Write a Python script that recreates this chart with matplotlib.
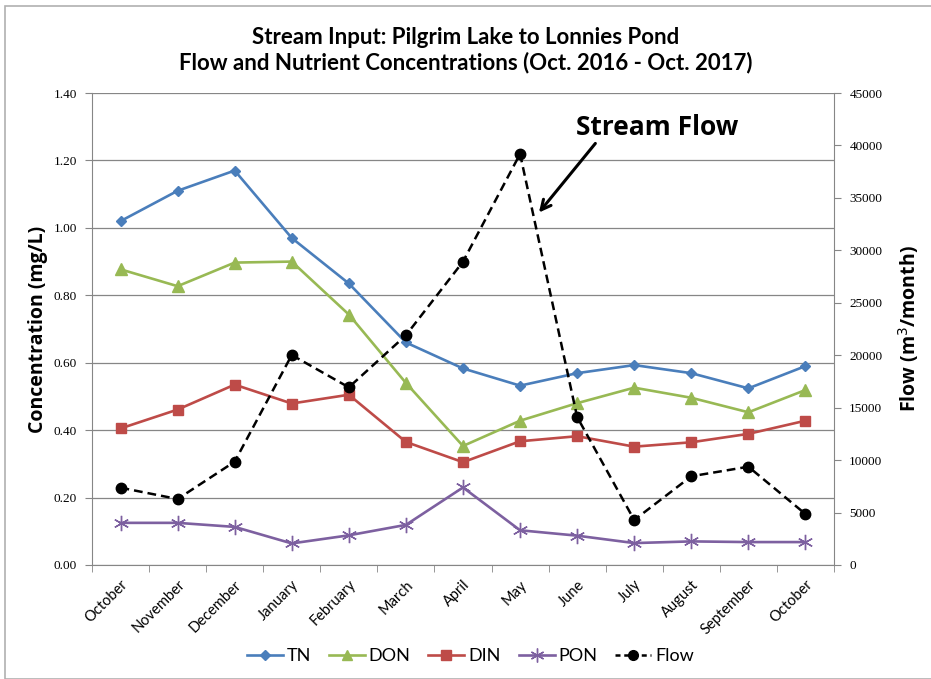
import matplotlib
matplotlib.use("Agg")
from matplotlib import pyplot as plt
from matplotlib.lines import Line2D
import numpy as np

months = ["October", "November", "December", "January", "February", "March",
          "April", "May", "June", "July", "August", "September", "October"]

tn = [1.02, 1.11, 1.17, 0.97, 0.835, 0.66, 0.583, 0.532, 0.569, 0.593, 0.569, 0.524, 0.59]
don = [0.877, 0.827, 0.897, 0.90, 0.743, 0.54, 0.353, 0.428, 0.48, 0.526, 0.496, 0.453, 0.519]
din = [0.405, 0.461, 0.535, 0.479, 0.505, 0.365, 0.305, 0.367, 0.382, 0.351, 0.364, 0.389, 0.428]
pon = [0.125, 0.125, 0.113, 0.064, 0.088, 0.119, 0.23, 0.103, 0.087, 0.065, 0.07, 0.068, 0.068]
flow = [7370, 6290, 9850, 20020, 16940, 21900, 28920, 39190, 14110, 4290, 8460, 9370, 4860]

conc_ticks = np.arange(0, 1.41, 0.2)
flow_ticks = np.arange(0, 45001, 5000)

grey = "#868686"
x = np.arange(len(months))

fig = plt.figure(figsize=(9.31, 6.79), dpi=100)
ax = fig.add_axes([0.0988, 0.1679, 0.797, 0.6951])
ax2 = ax.twinx()

lw = 1.9
ax.plot(x, tn, color="#4A7EBB", lw=lw, marker="D", ms=5.5, label="TN")
ax.plot(x, don, color="#98B954", lw=lw, marker="^", ms=8, label="DON")
ax.plot(x, din, color="#BE4B48", lw=lw, marker="s", ms=7.5, label="DIN")
ax.plot(x, pon, color="#7D60A0", lw=lw, marker=(6, 2, 0), ms=11, mew=1.0, label="PON")
ax2.plot(x, flow, color="black", lw=1.8, ls=(0, (3.5, 2)), marker="o", ms=7.5, label="Flow")

ax.set_xlim(-0.5, len(months) - 0.5)
ax.set_ylim(0, 1.4)
ax2.set_ylim(0, 45000)

ax.set_yticks(conc_ticks)
ax.set_yticklabels(["%.2f" % v for v in conc_ticks], family="Liberation Serif", fontsize=9.5)
ax2.set_yticks(flow_ticks)
ax2.set_yticklabels([str(v) for v in flow_ticks], family="Liberation Serif", fontsize=9.5)

ax.set_xticks(x)
ax.set_xticklabels(months, rotation=45, ha="right", rotation_mode="anchor",
                   family="Lato", fontsize=10.5)
ax.set_xticks(np.arange(-0.5, len(months), 1), minor=True)
ax.tick_params(axis="x", which="major", length=0, pad=9)
ax.tick_params(axis="x", which="minor", length=5, color=grey, direction="out")
ax.tick_params(axis="y", length=5, color=grey, direction="out", pad=6)
ax2.tick_params(axis="y", length=5, color=grey, direction="out", pad=6)

ax.yaxis.grid(True, color=grey, lw=0.9)
ax.set_axisbelow(True)
for s in ["top", "right"]:
    ax.spines[s].set_visible(False)
    ax2.spines[s].set_visible(False)
ax2.spines["right"].set_visible(True)
ax2.spines["right"].set_color(grey)
ax2.spines["left"].set_visible(False)
ax2.spines["bottom"].set_visible(False)
ax.spines["left"].set_color(grey)
ax.spines["bottom"].set_color(grey)

ax.set_ylabel("Concentration (mg/L)", family="Open Sans", fontsize=14, fontweight="bold", labelpad=4)
ax2.set_ylabel("Flow (m$^3$/month)", family="Open Sans", fontsize=14, fontweight="bold", labelpad=10)

fig.text(0.5, 0.926, "Stream Input: Pilgrim Lake to Lonnies Pond\nFlow and Nutrient Concentrations (Oct. 2016 - Oct. 2017)",
         ha="center", va="center", family="Lato", fontsize=16, fontweight="bold", linespacing=1.2)

ax2.text(9.4, 41700, "Stream Flow", ha="center", va="center", family="Open Sans",
         fontsize=19, fontweight="bold")
ax2.annotate("", xy=(7.3, 33400), xytext=(8.35, 40400),
             arrowprops=dict(arrowstyle="->,head_length=0.7,head_width=0.35", color="black", lw=2.2))

handles = [
    Line2D([], [], color="#4A7EBB", lw=lw, marker="D", ms=5),
    Line2D([], [], color="#98B954", lw=lw, marker="^", ms=7),
    Line2D([], [], color="#BE4B48", lw=lw, marker="s", ms=7),
    Line2D([], [], color="#7D60A0", lw=lw, marker=(6, 2, 0), ms=10, mew=1.0),
    Line2D([], [], color="black", lw=1.8, ls=(0, (2, 1.5)), marker="o", ms=7),
]
fig.legend(handles, ["TN", "DON", "DIN", "PON", "Flow"], loc="center", bbox_to_anchor=(0.505, 0.034),
           ncol=5, frameon=False, prop={"family": "Lato", "size": 13}, handlelength=2.0,
           handletextpad=0.2, columnspacing=1.0)

fig.patches.append(plt.Rectangle((5 / 931, 0.5 / 679), 1.2, (672.5) / 679, transform=fig.transFigure,
                                 fill=False, edgecolor="#b0b0b0", lw=1.2))

fig.savefig("out.png", dpi=100)
